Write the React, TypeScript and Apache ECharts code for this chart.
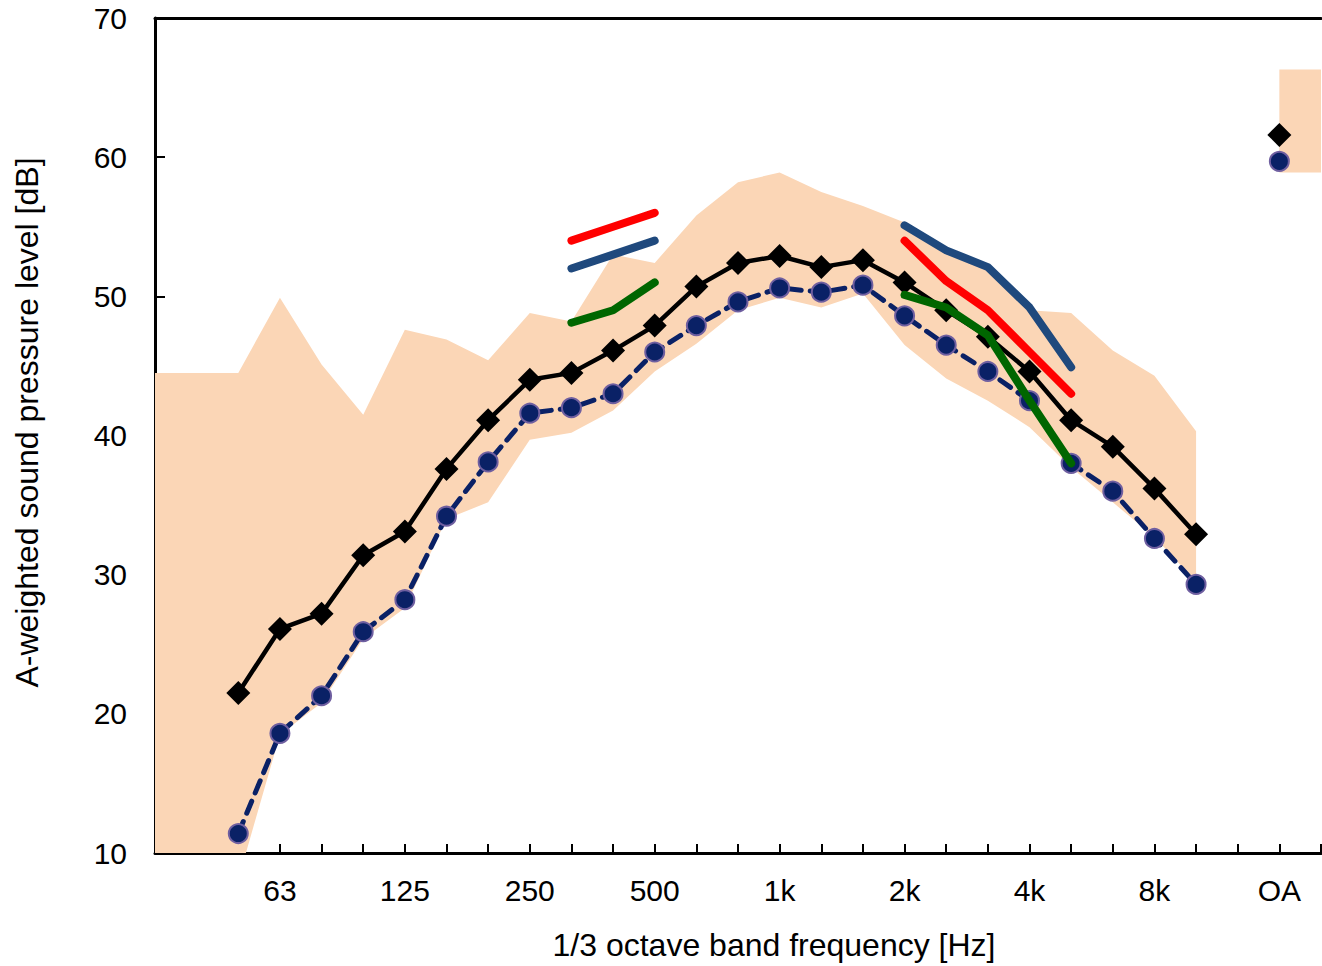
import React, { useEffect, useRef } from 'react';
import * as echarts from 'echarts';

// 1/3 octave band centre frequencies (category axis, boundaryGap false)
const categories = [
  '31.5', '40', '50', '63', '80', '100', '125', '160', '200', '250', '315', '400', '500',
  '630', '800', '1k', '1.25k', '1.6k', '2k', '2.5k', '3.15k', '4k', '5k', '6.3k', '8k', '10k',
  '12.5k', 'OA', '16k',
];
const shownLabels = ['63', '125', '250', '500', '1k', '2k', '4k', '8k', 'OA'];

// black diamonds, solid line
const meanLevel = [
  null, null, 21.5, 26.1, 27.2, 31.4, 33.1, 37.6, 41.1, 44.0, 44.5, 46.1, 47.9,
  50.7, 52.4, 52.9, 52.1, 52.6, 51.0, 49.0, 47.1, 44.6, 41.1, 39.2, 36.2, 32.9,
  null, 61.6, null,
];
// navy circles, dashed line
const lowLevel = [
  null, null, 11.4, 18.6, 21.3, 25.9, 28.2, 34.2, 38.1, 41.6, 42.0, 43.0, 46.0,
  47.9, 49.6, 50.6, 50.3, 50.8, 48.6, 46.5, 44.6, 42.5, 38.0, 36.0, 32.6, 29.3,
  null, 59.7, null,
];
// shaded range
const bandLower = [
  8.0, 8.0, 8.1, 18.5, 20.8, 25.4, 27.6, 34.0, 35.2, 39.7, 40.2, 41.8, 44.6,
  46.6, 49.0, 49.9, 49.2, 50.2, 46.5, 44.1, 42.5, 40.6, 37.7, 35.2, 32.7, 29.5,
  null, 58.9, 58.9,
];
const bandUpper = [
  44.5, 44.5, 44.5, 49.9, 45.1, 41.5, 47.6, 46.9, 45.4, 48.8, 48.2, 53.0, 52.4,
  55.8, 58.2, 58.9, 57.5, 56.5, 55.3, 53.3, 52.2, 49.0, 48.8, 46.1, 44.3, 40.3,
  null, 66.3, 66.3,
];
// short reference lines
const redLine = [
  null, null, null, null, null, null, null, null, null, null, 54.0, 55.0, 56.0,
  null, null, null, null, null, 54.0, 51.1, 49.0, 46.0, 43.0, null, null, null,
  null, null, null,
];
const blueLine = [
  null, null, null, null, null, null, null, null, null, null, 52.0, 53.0, 54.0,
  null, null, null, null, null, 55.1, 53.3, 52.1, 49.2, 44.9, null, null, null,
  null, null, null,
];
const greenLine = [
  null, null, null, null, null, null, null, null, null, null, 48.1, 49.0, 51.0,
  null, null, null, null, null, 50.1, 49.2, 47.2, 42.5, 38.0, null, null, null,
  null, null, null,
];

const FONT = 'Liberation Sans, Arial, sans-serif';

export default function App() {
  const ref = useRef<HTMLDivElement>(null);

  useEffect(() => {
    if (!ref.current) return;
    const chart = echarts.init(ref.current, null, { renderer: 'svg' });
    const bandSpan = bandUpper.map((u, i) =>
      u == null || bandLower[i] == null ? null : +(u - (bandLower[i] as number)).toFixed(2)
    );
    chart.setOption({
      animation: false,
      backgroundColor: '#ffffff',
      textStyle: { fontFamily: FONT },
      grid: { left: 155, right: 1, top: 18, bottom: 113, containLabel: false },
      xAxis: [
        {
          type: 'category',
          data: categories,
          boundaryGap: false,
          position: 'bottom',
          axisLine: { onZero: false, lineStyle: { color: '#000', width: 3 } },
          axisTick: { show: true, inside: true, interval: 0, length: 9, lineStyle: { color: '#000', width: 2 } },
          axisLabel: {
            interval: (_i: number, v: string) => shownLabels.includes(v),
            color: '#000',
            fontSize: 30,
            fontFamily: FONT,
            margin: 22,
          },
          splitLine: { show: false },
          name: '1/3 octave band frequency [Hz]',
          nameLocation: 'middle',
          nameGap: 76,
          nameTextStyle: { color: '#000', fontSize: 32, fontFamily: FONT, padding: [0, 0, 0, 72] },
        },
        {
          type: 'category',
          data: categories,
          boundaryGap: false,
          position: 'top',
          axisLine: { onZero: false, lineStyle: { color: '#000', width: 3 } },
          axisTick: { show: false },
          axisLabel: { show: false },
          splitLine: { show: false },
        },
      ],
      yAxis: {
        type: 'value',
        min: 10,
        max: 70,
        interval: 10,
        axisLine: { show: true, lineStyle: { color: '#000', width: 3 } },
        axisTick: { show: true, inside: true, length: 10, lineStyle: { color: '#000', width: 2 } },
        axisLabel: { color: '#000', fontSize: 30, fontFamily: FONT, margin: 28 },
        splitLine: { show: false },
        name: 'A-weighted sound pressure level [dB]',
        nameLocation: 'middle',
        nameGap: 112,
        nameTextStyle: { color: '#000', fontSize: 32, fontFamily: FONT, padding: [0, 0, 0, 26] },
      },
      series: [
        {
          type: 'line',
          name: 'bandLower',
          stack: 'band',
          data: bandLower,
          symbol: 'none',
          lineStyle: { opacity: 0, width: 0 },
          silent: true,
          z: 1,
        },
        {
          type: 'line',
          name: 'range',
          stack: 'band',
          data: bandSpan,
          symbol: 'none',
          lineStyle: { opacity: 0, width: 0 },
          areaStyle: { color: '#FBD6B6', opacity: 1 },
          silent: true,
          z: 1,
        },
        {
          type: 'line',
          name: 'mean',
          data: meanLevel,
          symbol: 'diamond',
          symbolSize: 24,
          showAllSymbol: true,
          lineStyle: { color: '#000', width: 4.5 },
          itemStyle: { color: '#000' },
          z: 3,
        },
        {
          type: 'line',
          name: 'low',
          data: lowLevel,
          symbol: 'circle',
          symbolSize: 19,
          showAllSymbol: true,
          lineStyle: { color: '#0A2166', width: 5, type: [13, 9], cap: 'round' },
          itemStyle: { color: '#0A2166', borderColor: '#6F5FA0', borderWidth: 2 },
          z: 4,
        },
        {
          type: 'line',
          name: 'red',
          data: redLine,
          symbol: 'none',
          lineStyle: { color: '#FF0000', width: 8, cap: 'round', join: 'round' },
          z: 5,
        },
        {
          type: 'line',
          name: 'blue',
          data: blueLine,
          symbol: 'none',
          lineStyle: { color: '#1F497D', width: 8, cap: 'round', join: 'round' },
          z: 5,
        },
        {
          type: 'line',
          name: 'green',
          data: greenLine,
          symbol: 'none',
          lineStyle: { color: '#006600', width: 8, cap: 'round', join: 'round' },
          z: 5,
        },
      ],
    });
    return () => chart.dispose();
  }, []);

  return (
    <div
      ref={ref}
      style={{ position: 'fixed', left: 0, top: 0, width: 1322, height: 966, background: '#fff' }}
    />
  );
}
